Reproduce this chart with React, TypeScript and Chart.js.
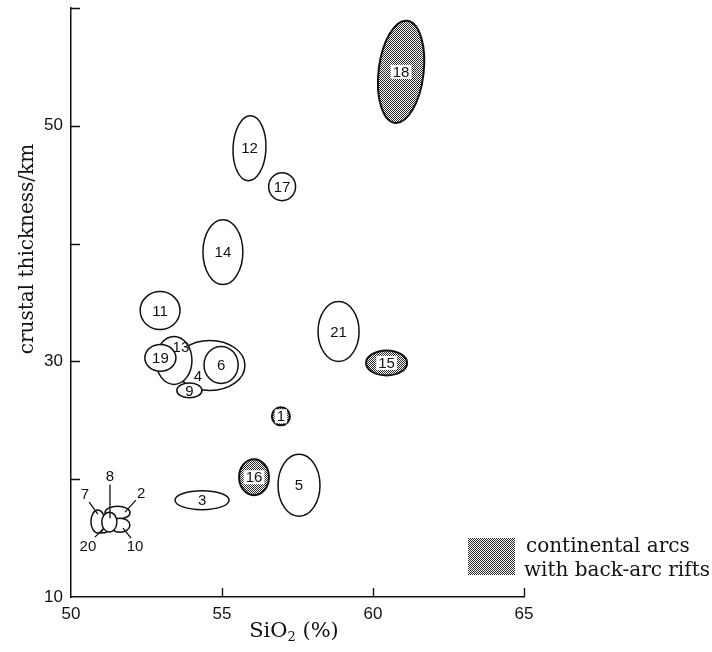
import React, { useEffect, useRef } from 'react';
import { Chart, registerables } from 'chart.js';

Chart.register(...registerables);

// Arc identifiers
const arcIds = ['1', '2', '3', '4', '5', '6', '7', '8', '9', '10', '11', '12', '13', '14', '15', '16', '17', '18', '19', '20', '21'];
// Ellipse centres: SiO2 (%) and crustal thickness (km)
const sio2Centre = [56.95, 51.54, 54.34, 54.6, 57.55, 54.97, 50.89, 51.27, 53.92, 51.62, 52.95, 55.91, 53.41, 55.03, 60.45, 56.06, 56.99, 60.93, 52.96, 51.01, 58.86];
const thicknessCentre = [25.34, 17.16, 18.22, 29.66, 19.49, 29.7, 16.4, 16.36, 27.54, 16.1, 34.32, 48.09, 30.08, 39.28, 29.87, 20.17, 44.83, 54.58, 30.3, 15.85, 32.54];
// Ellipse extents (full range) in SiO2 (%) and km
const sio2Range = [0.6, 0.83, 1.79, 2.32, 1.39, 1.13, 0.46, 0.5, 0.83, 0.66, 1.32, 1.09, 1.19, 1.32, 1.36, 0.99, 0.89, 1.49, 1.03, 0.56, 1.36];
const thicknessRange = [1.53, 1.1, 1.61, 4.24, 5.25, 3.14, 1.95, 1.69, 1.27, 1.19, 3.22, 5.51, 4.07, 5.51, 2.12, 3.05, 2.37, 8.73, 2.29, 0.85, 5.08];
// Tilt of ellipse (radians)
const tilt = [0, 0, 0, 0, 0, 0, 0, 0, 0, 0, 0, 0.04, 0, 0, 0, 0, 0, 0.12, 0, 0, 0];
// continental arcs with back-arc rifts
const backArcRift = ['1', '15', '16', '18'];
// Drawing order (later on top)
const drawOrder = ['4', '6', '13', '19', '9', '2', '10', '20', '7', '8', '1', '3', '5', '11', '12', '14', '15', '16', '17', '18', '21'];
// Labels placed away from the centre (SiO2, km)
const labelOverrides: Record<string, [number, number]> = {
  '4': [54.2, 28.81],
  '13': [53.64, 31.27],
  '7': [50.46, 18.73],
  '8': [51.29, 20.25],
  '2': [52.32, 18.81],
  '20': [50.56, 14.32],
  '10': [52.12, 14.32],
};
// Leader lines [x1, y1, x2, y2] in data units
const leaders: Record<string, [number, number, number, number]> = {
  '7': [50.6, 18.05, 50.89, 17.03],
  '8': [51.29, 19.55, 51.29, 16.69],
  '2': [52.15, 18.22, 51.79, 17.2],
  '20': [50.79, 15.08, 51.06, 15.76],
  '10': [51.99, 15.0, 51.72, 15.85],
};

const xTicks = [50, 55, 60, 65];
const yTicks = [10, 20, 30, 40, 50, 60];
const yLabelled = [10, 30, 50];

const xTitle = ['SiO', '2', ' (%)'];
const yTitle = 'crustal thickness/km';
const legendLines = ['continental arcs', 'with back-arc rifts'];

function makePattern(ctx: CanvasRenderingContext2D) {
  const c = document.createElement('canvas');
  c.width = 2;
  c.height = 2;
  const g = c.getContext('2d')!;
  g.fillStyle = '#ffffff';
  g.fillRect(0, 0, 2, 2);
  g.fillStyle = '#2a2a2a';
  g.fillRect(0, 0, 1, 1);
  g.fillRect(1, 1, 1, 1);
  return ctx.createPattern(c, 'repeat')!;
}

const ellipsePlugin = {
  id: 'ellipses',
  afterDatasetsDraw(chart: any) {
    const ctx: CanvasRenderingContext2D = chart.ctx;
    const xs = chart.scales.x;
    const ys = chart.scales.y;
    const pattern = makePattern(ctx);
    const area = chart.chartArea;

    // inward ticks
    ctx.save();
    ctx.strokeStyle = '#111';
    ctx.lineWidth = 1.4;
    ctx.beginPath();
    yTicks.forEach((v) => {
      if (v === ys.min) return;
      const py = Math.round(ys.getPixelForValue(v)) + 0.5;
      ctx.moveTo(area.left, py);
      ctx.lineTo(area.left + 9, py);
    });
    xTicks.forEach((v) => {
      if (v === xs.min) return;
      const px = Math.round(xs.getPixelForValue(v)) + 0.5;
      ctx.moveTo(px, area.bottom);
      ctx.lineTo(px, area.bottom - 9);
    });
    ctx.stroke();
    ctx.restore();

    const idx = (id: string) => arcIds.indexOf(id);

    drawOrder.forEach((id) => {
      const i = idx(id);
      const cx = xs.getPixelForValue(sio2Centre[i]);
      const cy = ys.getPixelForValue(thicknessCentre[i]);
      const rx = Math.abs(xs.getPixelForValue(sio2Centre[i] + sio2Range[i] / 2) - cx);
      const ry = Math.abs(ys.getPixelForValue(thicknessCentre[i] + thicknessRange[i] / 2) - cy);
      const shaded = backArcRift.includes(id);
      ctx.save();
      ctx.beginPath();
      ctx.ellipse(cx, cy, rx, ry, tilt[i], 0, Math.PI * 2);
      ctx.fillStyle = shaded ? pattern : '#ffffff';
      ctx.fill();
      ctx.lineWidth = shaded ? 2 : 1.5;
      ctx.strokeStyle = '#111';
      ctx.stroke();
      ctx.restore();
    });

    // labels
    ctx.save();
    ctx.font = '15px "Liberation Sans", sans-serif';
    ctx.textAlign = 'center';
    ctx.textBaseline = 'middle';
    arcIds.forEach((id, i) => {
      const pos = labelOverrides[id] || [sio2Centre[i], thicknessCentre[i]];
      const px = xs.getPixelForValue(pos[0]);
      const py = ys.getPixelForValue(pos[1]);
      if (backArcRift.includes(id)) {
        const w = ctx.measureText(id).width + 4;
        ctx.fillStyle = '#ffffff';
        ctx.fillRect(px - w / 2, py - 7, w, 14);
      }
      ctx.fillStyle = '#111';
      ctx.fillText(id, px, py + 1);
    });
    // leaders
    ctx.strokeStyle = '#111';
    ctx.lineWidth = 1.3;
    ctx.beginPath();
    Object.keys(leaders).forEach((id) => {
      const l = leaders[id];
      ctx.moveTo(xs.getPixelForValue(l[0]), ys.getPixelForValue(l[1]));
      ctx.lineTo(xs.getPixelForValue(l[2]), ys.getPixelForValue(l[3]));
    });
    ctx.stroke();
    ctx.restore();
  },
  afterDraw(chart: any) {
    const ctx: CanvasRenderingContext2D = chart.ctx;
    const serif = '"DejaVu Serif", serif';
    ctx.save();
    ctx.fillStyle = '#111';
    // y title
    ctx.save();
    ctx.translate(33, 249);
    ctx.rotate(-Math.PI / 2);
    ctx.font = `20px ${serif}`;
    ctx.textAlign = 'center';
    ctx.textBaseline = 'alphabetic';
    ctx.fillText(yTitle, 0, 0);
    ctx.restore();

    // x title
    ctx.font = `21px ${serif}`;
    const w0 = ctx.measureText(xTitle[0]).width;
    ctx.font = `13px ${serif}`;
    const w1 = ctx.measureText(xTitle[1]).width;
    ctx.font = `21px ${serif}`;
    const w2 = ctx.measureText(xTitle[2]).width;
    const total = w0 + w1 + w2;
    let x = 294 - total / 2;
    const base = 637;
    ctx.textAlign = 'left';
    ctx.textBaseline = 'alphabetic';
    ctx.fillText(xTitle[0], x, base);
    x += w0;
    ctx.font = `13px ${serif}`;
    ctx.fillText(xTitle[1], x, base + 4);
    x += w1;
    ctx.font = `21px ${serif}`;
    ctx.fillText(xTitle[2], x, base);

    // legend
    const pattern = makePattern(ctx);
    ctx.fillStyle = pattern;
    ctx.fillRect(468, 538, 47, 37);
    ctx.fillStyle = '#111';
    ctx.font = `20px ${serif}`;
    ctx.fillText(legendLines[0], 526, 552);
    ctx.fillText(legendLines[1], 524, 576);
    ctx.restore();
  },
};

export default function App() {
  const ref = useRef<HTMLCanvasElement>(null);
  useEffect(() => {
    if (!ref.current) return;
    const tickFont = { family: '"Liberation Sans", sans-serif', size: 17 };
    const chart = new Chart(ref.current, {
      type: 'scatter',
      data: {
        datasets: [
          {
            label: 'arcs',
            data: arcIds.map((_, i) => ({ x: sio2Centre[i], y: thicknessCentre[i] })),
            pointRadius: 0,
            pointHoverRadius: 0,
          },
        ],
      },
      options: {
        responsive: false,
        animation: false,
        events: [],
        layout: { padding: { left: 0, right: 188, top: 8, bottom: 0 } },
        plugins: { legend: { display: false }, tooltip: { enabled: false } },
        scales: {
          x: {
            type: 'linear',
            min: 50,
            max: 65,
            afterBuildTicks: (s: any) => {
              s.ticks = xTicks.map((v) => ({ value: v }));
            },
            ticks: { font: tickFont, color: '#111', padding: 7, maxRotation: 0, autoSkip: false },
            grid: { display: false, drawTicks: false },
            border: { display: true, color: '#111', width: 1.5 },
            afterFit: (s: any) => {
              s.height = 55;
              s.paddingLeft = 0;
              s.paddingRight = 0;
            },
          },
          y: {
            type: 'linear',
            min: 10,
            max: 60,
            afterBuildTicks: (s: any) => {
              s.ticks = yTicks.map((v) => ({ value: v }));
            },
            ticks: {
              font: tickFont,
              color: '#111',
              padding: 8,
              autoSkip: false,
              callback: (v: any) => (yLabelled.includes(Number(v)) ? String(v) : ''),
            },
            grid: { display: false, drawTicks: false },
            border: { display: true, color: '#111', width: 1.5 },
            afterFit: (s: any) => {
              s.width = 71;
              s.paddingTop = 0;
              s.paddingBottom = 0;
            },
          },
        },
      },
      plugins: [ellipsePlugin],
    });
    return () => chart.destroy();
  }, []);
  return (
    <div style={{ position: 'absolute', left: 0, top: 0, width: 712, height: 652, background: '#fff' }}>
      <canvas ref={ref} width={712} height={652} />
    </div>
  );
}
